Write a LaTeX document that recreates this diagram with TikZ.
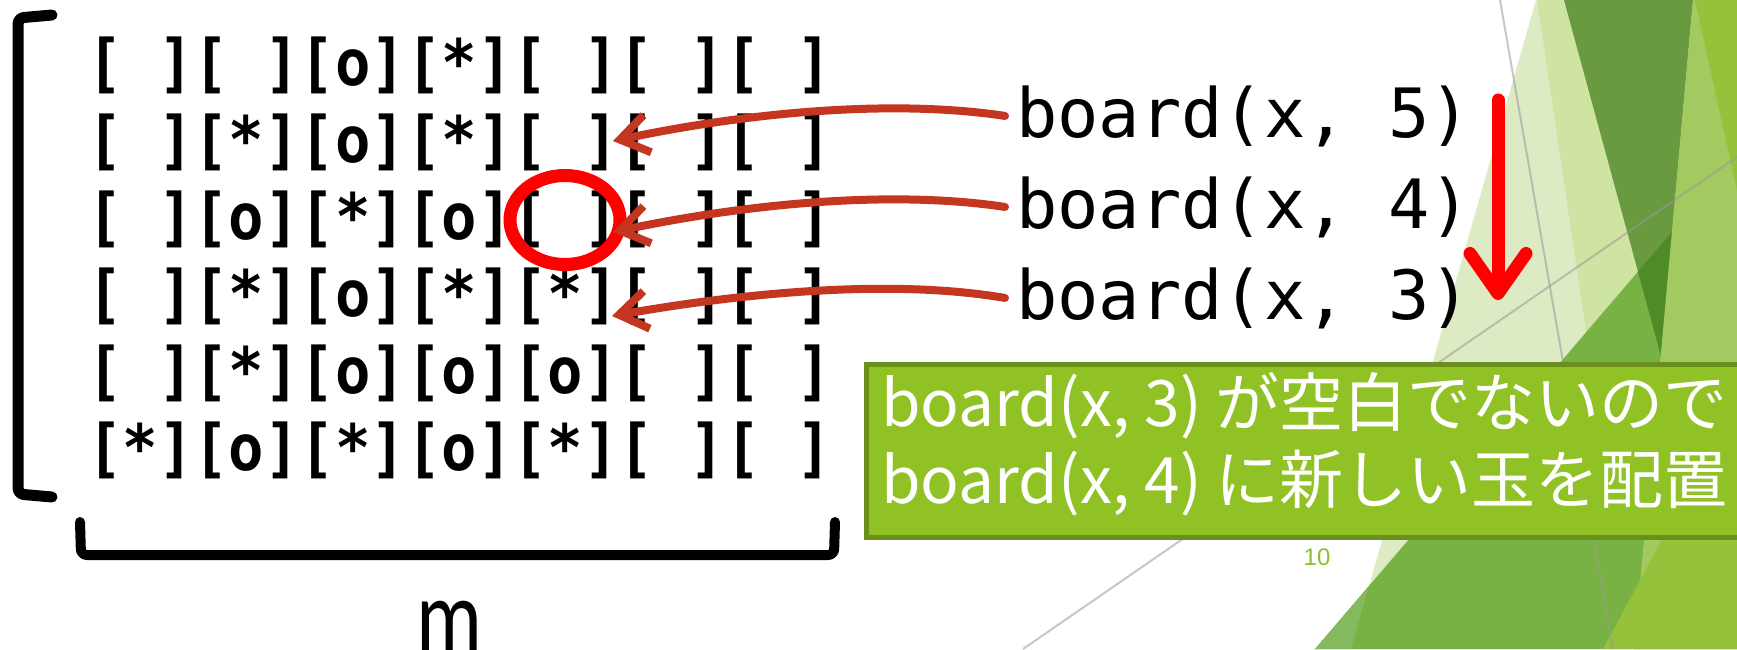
\documentclass[tikz,border=0pt]{standalone}
\usepackage{fontspec}
\usetikzlibrary{arrows.meta,shapes.geometric}

\newfontfamily\gridfont{DejaVu Sans Mono}[FakeStretch=0.92]
\newfontfamily\labfont{DejaVu Sans Mono}[FakeStretch=1.01]
\newfontfamily\jpfont{Noto Sans CJK JP}
\newfontfamily\mfont{Carlito}[FakeStretch=0.75]
\newfontfamily\numfont{Liberation Sans}

\definecolor{arrowred}{HTML}{C4361F}
\definecolor{boxgreen}{HTML}{90C226}
\definecolor{boxedge}{HTML}{6A8F1D}
\definecolor{pale}{HTML}{DDEBC5}
\definecolor{palemid}{HTML}{CFE3A3}
\definecolor{midgreen}{HTML}{78B244}
\definecolor{softmid}{HTML}{84B95F}
\definecolor{darkgreen}{HTML}{6A9A40}
\definecolor{deepgreen}{HTML}{4F8B27}
\definecolor{lightlime}{HTML}{A3C961}
\definecolor{lime}{HTML}{95C23A}
\definecolor{pagegreen}{HTML}{8CBF2E}

\tikzset{
  gridrow/.style={anchor=base west, inner sep=0pt,
    font=\gridfont\bfseries\fontsize{64}{77}\selectfont},
  labtext/.style={anchor=base west, inner sep=0pt,
    font=\labfont\fontsize{68}{80}\selectfont},
  notetext/.style={anchor=base west, inner sep=0pt, text=white,
    font=\jpfont\fontsize{64}{77}\selectfont},
  pointer/.style={draw=arrowred, line width=8pt, line cap=round,
    -{Straight Barb[length=28pt,width=38pt]}},
  bracketline/.style={draw=black, line width=11pt, line cap=round,
    line join=round, rounded corners=6pt},
  facet/.style={draw=none},
  guide/.style={draw=black!40, line width=2pt, opacity=0.55}
}

\begin{document}
\begin{tikzpicture}[x=1pt,y=-1pt]
\useasboundingbox (0,0) rectangle (1737,649);
\clip (0,0) rectangle (1737,649);
\fill[white] (0,0) rectangle (1737,649);

% theme facets on the right
\fill[facet, pale] (1536,0) -- (1737,0) -- (1737,649) -- (1351,649) -- cycle;
\fill[facet, palemid] (1537,0) -- (1737,0) -- (1737,649) -- (1633,649) -- cycle;
\fill[facet, midgreen] (1315,649) -- (1737,156) -- (1737,649) -- cycle;
\fill[facet, softmid] (1315,649) -- (1369,586) -- (1351,649) -- cycle;
\fill[facet, darkgreen] (1564,0) -- (1693,0) -- (1661,356) -- cycle;
\begin{scope}
  \clip (1315,649) -- (1737,156) -- (1737,649) -- cycle;
  \fill[facet, deepgreen] (1564,0) -- (1693,0) -- (1661,356) -- cycle;
\end{scope}
\fill[facet, lightlime] (1693,0) -- (1737,0) -- (1737,649) -- (1634,649) -- cycle;
\fill[facet, lime] (1695,0) -- (1737,0) -- (1737,190) -- cycle;
\fill[facet, lime] (1603,649) -- (1737,400) -- (1737,649) -- cycle;
\draw[guide] (1500,0) -- (1613,649);
\draw[guide] (1023,649) -- (1737,157);

% matrix brackets
\draw[bracketline] (52,15) -- (18,18) -- (18,494) -- (52,497);
\draw[bracketline, line width=10pt] (80,522) -- (81,555) -- (834,555) -- (835,522);

% board rows
\node[gridrow] (row1) at (87,85.6)  {[ ][ ][o][*][ ][ ][ ]};
\node[gridrow] (row2) at (87,162.6) {[ ][*][o][*][ ][ ][ ]};
\node[gridrow] (row3) at (87,239.6) {[ ][o][*][o][ ][ ][ ]};
\node[gridrow] (row4) at (87,316.6) {[ ][*][o][*][*][ ][ ]};
\node[gridrow] (row5) at (87,393.6) {[ ][*][o][o][o][ ][ ]};
\node[gridrow] (row6) at (87,470.6) {[*][o][*][o][*][ ][ ]};

\node[anchor=base, inner sep=0pt, font=\mfont\fontsize{110}{120}\selectfont] (mlabel) at (449,654) {m};

% highlighted cell
\node[ellipse, draw=red, line width=13pt, minimum width=110pt, minimum height=89pt, inner sep=0pt] (hit) at (565,220) {};

% board labels and pointers
\node[labtext] (lab5) at (1016,137) {board(x, 5)};
\node[labtext] (lab4) at (1016,228) {board(x, 4)};
\node[labtext] (lab3) at (1016,319) {board(x, 3)};

\coordinate (t5) at (613,141);
\coordinate (t4) at (613,232);
\coordinate (t3) at (612,316);

\draw[pointer] ([xshift=-11pt]lab5.west) .. controls (900,100) and (760,110) .. (t5);
\draw[pointer] ([xshift=-11pt]lab4.west) .. controls (900,191) and (760,201) .. (t4);
\draw[pointer] ([xshift=-11pt]lab3.west) .. controls (900,280) and (760,290) .. (t3);

% downward search arrow
\coordinate (dn1) at (1498,100);
\coordinate (dn2) at (1498,300);
\draw[red, line width=13pt, line cap=round, -{Straight Barb[length=40pt,width=56pt,round]}] (dn1) -- (dn2);

% note box
\node[draw=boxedge, fill=boxgreen, line width=5pt, anchor=north west, minimum width=920pt, minimum height=173pt, inner sep=0pt] (note) at (863.5,361.5) {};
\node[notetext] (note1) at (881,426) {board(x, 3) が空白でないので};
\node[notetext] (note2) at (881,503) {board(x, 4) に新しい玉を配置};

\node[anchor=base, inner sep=0pt, text=pagegreen, font=\numfont\fontsize{24}{28}\selectfont] (page) at (1317,565) {10};
\end{tikzpicture}
\end{document}
